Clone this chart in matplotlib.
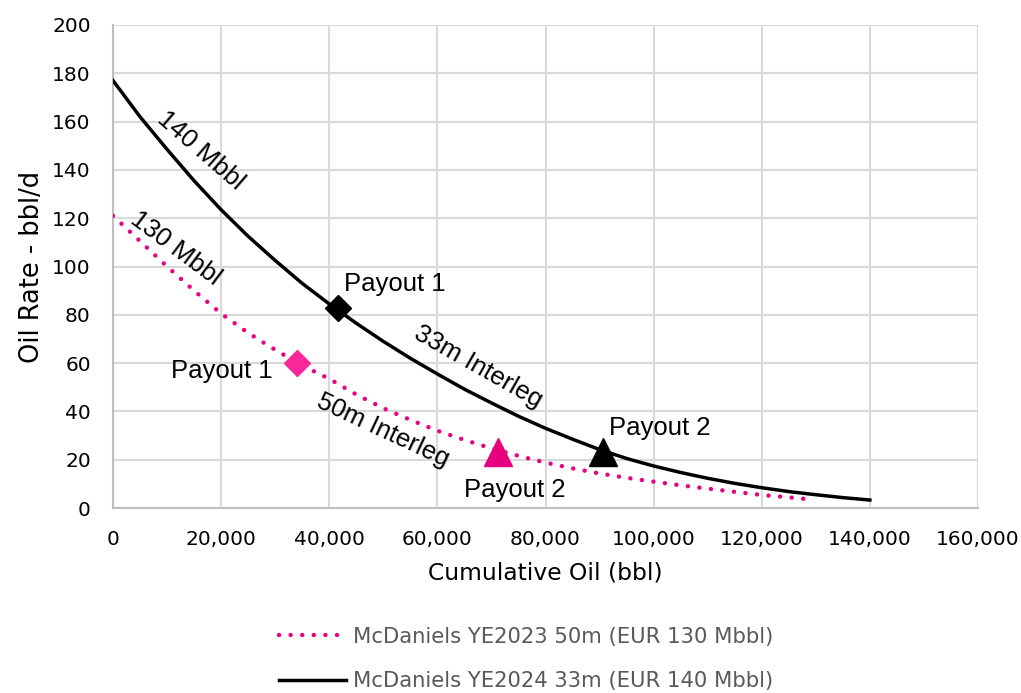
import matplotlib
matplotlib.use("Agg")
import matplotlib.pyplot as plt
from matplotlib.lines import Line2D

# ---- data ----
cum_2024 = [0, 5000, 10000, 15000, 20000, 25000, 30000, 35000, 40000, 45000,
            50000, 55000, 60000, 65000, 70000, 75000, 80000, 85000, 90000,
            95000, 100000, 105000, 110000, 115000, 120000, 125000, 130000,
            135000, 140000]
rate_2024 = [177, 162, 148.5, 135.5, 123.5, 112.5, 102.5, 93, 84.5, 76.5,
             69, 62, 55.5, 49.2, 43.5, 38, 33, 28.5, 24.2,
             20.5, 17.4, 14.7, 12.3, 10.2, 8.4, 6.8, 5.5,
             4.3, 3.3]

cum_2023 = [0, 5000, 10000, 15000, 20000, 25000, 30000, 35000, 40000, 45000,
            50000, 55000, 60000, 65000, 70000, 75000, 80000, 85000, 90000,
            95000, 100000, 105000, 110000, 115000, 120000, 125000, 128700]
rate_2023 = [121, 110.5, 100, 90, 80.5, 72.5, 65.5, 59, 53.5, 47,
             41.3, 36.5, 32, 28.2, 24.7, 21.6, 18.8, 16.4, 14.3,
             12.5, 10.9, 9.4, 8, 6.7, 5.4, 4.4, 3.6]

payout_2024_x = [41600, 90600]
payout_2024_y = [82.8, 23.3]
payout_2023_x = [34000, 71200]
payout_2023_y = [59.9, 23.3]

label_2023 = "McDaniels YE2023 50m (EUR 130 Mbbl)"
label_2024 = "McDaniels YE2024 33m (EUR 140 Mbbl)"

x_ticks = [0, 20000, 40000, 60000, 80000, 100000, 120000, 140000, 160000]
y_ticks = [0, 20, 40, 60, 80, 100, 120, 140, 160, 180, 200]

PINK = "#E6007E"
PINK_LIGHT = "#F7299A"
DOTS = (0, (0.01, 2.6))

tick_font = dict(family=["DejaVu Sans"], size=14.5)
ann_font = ["Liberation Sans", "Arial", "DejaVu Sans"]

fig = plt.figure(figsize=(10.21, 6.93), dpi=100)
ax = fig.add_axes([113/1021, 1-508/693, (978-113)/1021, (508-25)/693])

ax.plot(cum_2023, rate_2023, color=PINK, lw=3.2, linestyle=DOTS,
        dash_capstyle="round", zorder=3)
ax.plot(cum_2024, rate_2024, color="black", lw=2.5, zorder=3)

ax.plot(payout_2024_x[0], payout_2024_y[0], marker="D", color="black", ms=13.5, ls="none", zorder=4)
ax.plot(payout_2024_x[1], payout_2024_y[1], marker="^", color="black", ms=19.5, ls="none", zorder=4)
ax.plot(payout_2023_x[0], payout_2023_y[0], marker="D", color=PINK_LIGHT, ms=13.5, ls="none", zorder=4)
ax.plot(payout_2023_x[1], payout_2023_y[1], marker="^", color=PINK, ms=19.5, ls="none", zorder=4)

ax.set_xlim(0, 160000)
ax.set_ylim(0, 200)
ax.set_xticks(x_ticks)
ax.set_yticks(y_ticks)
ax.set_xticklabels([f"{v:,}" for v in x_ticks], **tick_font)
ax.set_yticklabels([str(v) for v in y_ticks], **tick_font)
ax.tick_params(axis="both", length=0, pad=16, colors="black")
ax.grid(True, color="#D9D9D9", lw=1.5)
ax.set_axisbelow(True)
for s in ["top", "right"]:
    ax.spines[s].set_visible(False)
for s in ["left", "bottom"]:
    ax.spines[s].set_color("#BFBFBF")
    ax.spines[s].set_linewidth(1.5)

ax.set_xlabel("Cumulative Oil (bbl)", family=["DejaVu Sans"], size=16.8, labelpad=9)
ax.set_ylabel("Oil Rate - bbl/d", family=["DejaVu Sans"], size=18.5, labelpad=5)

# annotations
def ann(txt, x, y, rot=0):
    ax.text(x, y, txt, family=ann_font, size=18.5, rotation=rot,
            rotation_mode="anchor", ha="center", va="center", zorder=5)

ann("140 Mbbl", 16300, 147.8, -41)
ann("130 Mbbl", 11650, 107.3, -37)
ann("33m Interleg", 67650, 58.4, -29.5)
ann("50m Interleg", 49900, 32.3, -25)
ann("Payout 1", 52100, 92.8)
ann("Payout 1", 20150, 56.7)
ann("Payout 2", 101100, 33.1)
ann("Payout 2", 74300, 7.5)

handles = [
    Line2D([], [], color=PINK, lw=3.2, linestyle=DOTS, dash_capstyle="round"),
    Line2D([], [], color="black", lw=2.5),
]
leg = fig.legend(handles, [label_2023, label_2024], loc="center",
                 bbox_to_anchor=(526/1021, 1-659/693), frameon=False,
                 prop=dict(family=["DejaVu Sans"], size=15.2),
                 handlelength=3.2, labelspacing=1.15, handletextpad=0.3)
for t in leg.get_texts():
    t.set_color("#595959")

fig.savefig("out.png", dpi=100)
